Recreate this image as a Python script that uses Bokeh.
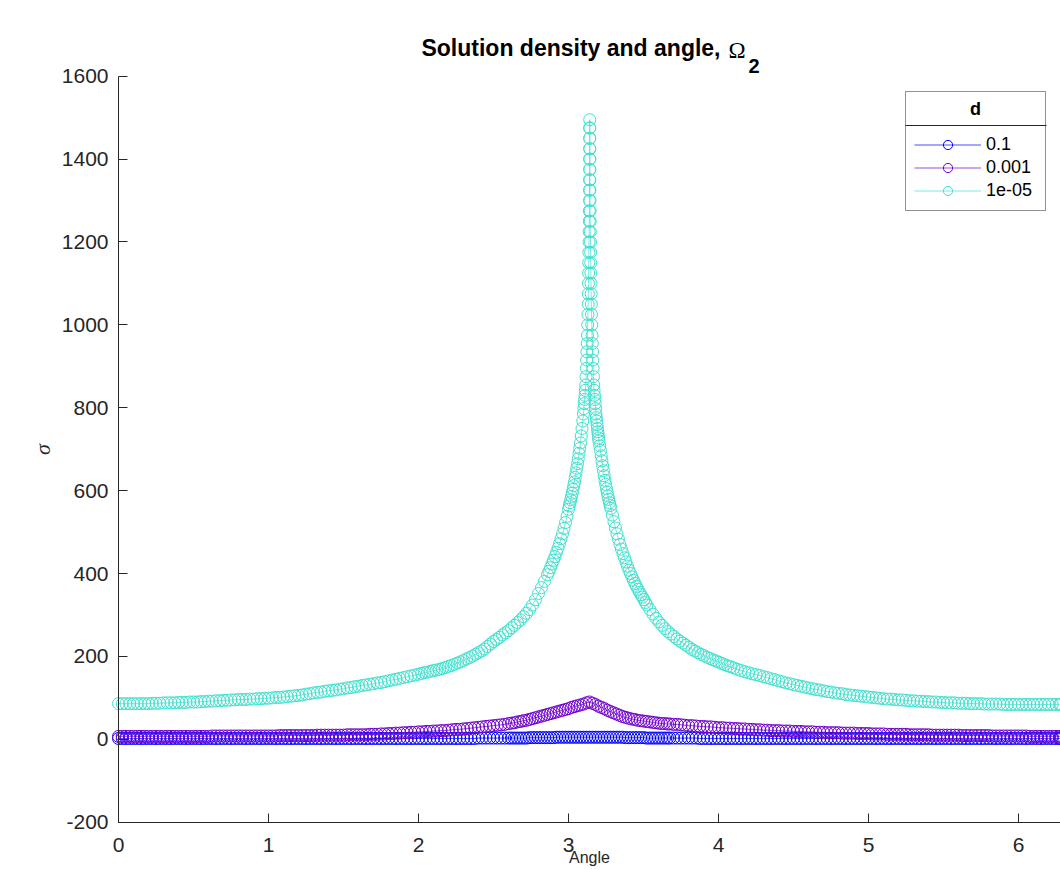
import math
from bokeh.plotting import figure
from bokeh.models import Range1d, FixedTicker, Label, Legend, LegendItem, BoxAnnotation
from bokeh.embed import file_html
from bokeh.resources import INLINE

# ---------------- data ----------------
series_labels = ["0.1", "0.001", "1e-05"]
series_colors = ["#0000FF", "#7000CC", "#40E0D0"]

# angles shared by d = 0.1 and d = 0.001
angle_lo = [
    0.000, 0.025, 0.050, 0.075, 0.100, 0.125, 0.150, 0.175, 0.200, 0.225,
    0.250, 0.275, 0.300, 0.325, 0.350, 0.375, 0.400, 0.425, 0.450, 0.475,
    0.500, 0.525, 0.550, 0.575, 0.600, 0.625, 0.650, 0.675, 0.700, 0.725,
    0.750, 0.775, 0.800, 0.825, 0.850, 0.875, 0.900, 0.925, 0.950, 0.975,
    1.000, 1.025, 1.050, 1.075, 1.100, 1.125, 1.150, 1.175, 1.200, 1.225,
    1.250, 1.275, 1.300, 1.325, 1.350, 1.375, 1.400, 1.425, 1.450, 1.475,
    1.500, 1.525, 1.550, 1.575, 1.600, 1.625, 1.650, 1.675, 1.700, 1.725,
    1.750, 1.775, 1.800, 1.825, 1.850, 1.875, 1.900, 1.925, 1.950, 1.975,
    2.000, 2.025, 2.050, 2.075, 2.100, 2.125, 2.150, 2.175, 2.200, 2.225,
    2.250, 2.275, 2.300, 2.325, 2.350, 2.375, 2.400, 2.425, 2.450, 2.475,
    2.500, 2.525, 2.550, 2.575, 2.600,
    2.62, 2.64, 2.66, 2.68, 2.70, 2.72, 2.74, 2.76, 2.78, 2.80,
    2.82, 2.84, 2.86, 2.88, 2.90, 2.92, 2.94, 2.96, 2.98, 3.00,
    3.02, 3.04, 3.06, 3.08, 3.10, 3.12, 3.14, 3.16, 3.18, 3.20,
    3.22, 3.24, 3.26, 3.28, 3.30, 3.32, 3.34, 3.36, 3.38, 3.40,
    3.42, 3.44, 3.46, 3.48, 3.50, 3.52, 3.54, 3.56, 3.58, 3.60,
    3.62, 3.64, 3.66,
    3.675, 3.700, 3.725, 3.750, 3.775, 3.800, 3.825, 3.850, 3.875, 3.900,
    3.925, 3.950, 3.975, 4.000, 4.025, 4.050, 4.075, 4.100, 4.125, 4.150,
    4.175, 4.200, 4.225, 4.250, 4.275, 4.300, 4.325, 4.350, 4.375, 4.400,
    4.425, 4.450, 4.475, 4.500, 4.525, 4.550, 4.575, 4.600, 4.625, 4.650,
    4.675, 4.700, 4.725, 4.750, 4.775, 4.800, 4.825, 4.850, 4.875, 4.900,
    4.925, 4.950, 4.975, 5.000, 5.025, 5.050, 5.075, 5.100, 5.125, 5.150,
    5.175, 5.200, 5.225, 5.250, 5.275, 5.300, 5.325, 5.350, 5.375, 5.400,
    5.425, 5.450, 5.475, 5.500, 5.525, 5.550, 5.575, 5.600, 5.625, 5.650,
    5.675, 5.700, 5.725, 5.750, 5.775, 5.800, 5.825, 5.850, 5.875, 5.900,
    5.925, 5.950, 5.975, 6.000, 6.025, 6.050, 6.075, 6.100, 6.125, 6.150,
    6.175, 6.200, 6.225, 6.250, 6.275, 6.283,
]

# d = 0.1
sigma_d1 = [
    2, 2, 2, 2, 2, 2, 2, 2, 2, 2,
    2, 2, 2, 2, 2, 2, 2, 2, 2, 2,
    2, 2, 2, 2, 2, 2, 2, 2, 2, 2,
    2, 2, 2, 2, 2, 2, 2, 2, 2, 2,
    2, 2, 2, 2, 2, 2, 2, 2, 2, 2,
    2, 2, 2, 2, 2, 2, 2, 2, 2, 2,
    2, 2, 2, 2, 2, 2, 2, 2, 2, 2,
    2, 2, 2, 2, 2, 2, 2, 2, 2, 2,
    2, 2, 2, 2, 2, 2, 2, 2, 2, 2,
    2, 2, 2, 2, 2, 2, 3, 3, 3, 3,
    3, 3, 3, 3, 3,
    3, 3, 3, 3, 3, 3, 4, 4, 4, 4,
    4, 4, 4, 4, 4, 5, 5, 5, 5, 5,
    5, 5, 5, 5, 5, 5, 5, 5, 5, 5,
    5, 5, 5, 5, 5, 5, 5, 5, 4, 4,
    4, 4, 4, 4, 4, 3, 3, 3, 3, 3,
    3, 3, 3,
    3, 3, 3, 3, 3, 3, 3, 3, 2, 2,
    2, 2, 2, 2, 2, 2, 2, 2, 2, 2,
    2, 2, 2, 2, 2, 2, 2, 2, 2, 2,
    2, 2, 2, 2, 2, 2, 2, 2, 2, 2,
    2, 2, 2, 2, 2, 2, 2, 2, 2, 2,
    2, 2, 2, 2, 2, 2, 2, 2, 2, 2,
    2, 2, 2, 2, 2, 2, 2, 2, 2, 2,
    2, 2, 2, 2, 2, 2, 2, 2, 2, 2,
    2, 2, 2, 2, 2, 2, 2, 2, 2, 2,
    2, 2, 2, 2, 2, 2, 2, 2, 2, 2,
    2, 2, 2, 2, 2, 2,
]

# d = 0.001
sigma_d3 = [
    7, 7, 7, 7, 7, 7, 7, 7, 7, 7,
    7, 7, 7, 7, 7, 7, 7, 7, 7, 7,
    7, 7, 7, 7, 7, 8, 8, 8, 8, 8,
    8, 8, 8, 8, 8, 8, 8, 8, 8, 8,
    8, 8, 8, 9, 9, 9, 9, 9, 9, 9,
    9, 9, 9, 10, 10, 10, 10, 10, 10, 10,
    10, 11, 11, 11, 11, 11, 11, 12, 12, 12,
    13, 13, 14, 14, 15, 15, 16, 16, 17, 17,
    18, 18, 19, 19, 20, 20, 21, 21, 22, 23,
    24, 24, 25, 26, 27, 28, 29, 30, 31, 32,
    33, 34, 35, 36, 38,
    39, 40, 42, 43, 45, 46, 48, 50, 52, 54,
    56, 58, 60, 62, 64, 66, 68, 70, 72, 74,
    77, 79, 81, 83, 85, 88, 90, 87, 84, 80,
    77, 74, 70, 67, 64, 61, 58, 55, 53, 51,
    49, 48, 46, 45, 44, 43, 42, 41, 40, 39,
    38, 38, 37,
    37, 36, 36, 35, 34, 33, 33, 32, 31, 31,
    30, 30, 29, 28, 28, 27, 27, 26, 26, 25,
    25, 24, 24, 23, 23, 22, 22, 21, 21, 21,
    20, 20, 20, 19, 19, 19, 18, 18, 18, 17,
    17, 17, 16, 16, 16, 16, 15, 15, 15, 15,
    14, 14, 14, 14, 13, 13, 13, 13, 12, 12,
    12, 12, 12, 12, 11, 11, 11, 11, 11, 11,
    10, 10, 10, 10, 10, 10, 10, 10, 9, 9,
    9, 9, 9, 9, 9, 9, 8, 8, 8, 8,
    8, 8, 8, 8, 8, 8, 7, 7, 7, 7,
    7, 7, 7, 7, 7, 7,
]

# d = 1e-05: left flank, central spike, right flank
angle_hi_left = [
    0.000, 0.025, 0.050, 0.075, 0.100, 0.125, 0.150, 0.175, 0.200, 0.225,
    0.250, 0.275, 0.300, 0.325, 0.350, 0.375, 0.400, 0.425, 0.450, 0.475,
    0.500, 0.525, 0.550, 0.575, 0.600, 0.625, 0.650, 0.675, 0.700, 0.725,
    0.750, 0.775, 0.800, 0.825, 0.850, 0.875, 0.900, 0.925, 0.950, 0.975,
    1.000, 1.025, 1.050, 1.075, 1.100, 1.125, 1.150, 1.175, 1.200, 1.225,
    1.250, 1.275, 1.300, 1.325, 1.350, 1.375, 1.400, 1.425, 1.450, 1.475,
    1.500, 1.525, 1.550, 1.575, 1.600, 1.625, 1.650, 1.675, 1.700, 1.725,
    1.750, 1.775, 1.800, 1.825, 1.850, 1.875, 1.900, 1.925, 1.950, 1.975,
    2.00, 2.02, 2.04, 2.06, 2.08, 2.10, 2.12, 2.14, 2.16, 2.18,
    2.20, 2.22, 2.24, 2.26, 2.28, 2.30, 2.32, 2.34, 2.36, 2.38,
    2.40, 2.42, 2.44, 2.46, 2.48, 2.50, 2.52, 2.54, 2.56, 2.58,
    2.60, 2.62, 2.64, 2.66, 2.68, 2.70, 2.72, 2.74, 2.76, 2.78,
    2.80, 2.82, 2.84, 2.86, 2.87, 2.88, 2.89, 2.90, 2.91, 2.92,
    2.93, 2.94, 2.95, 2.96, 2.97, 2.98, 2.99, 3.00, 3.005, 3.01,
    3.015, 3.02, 3.025, 3.03, 3.035, 3.04, 3.045, 3.05, 3.055, 3.06,
    3.065, 3.07, 3.075, 3.08, 3.085, 3.09, 3.095, 3.10, 3.1025, 3.105,
    3.1075, 3.11, 3.1125,
]
sigma_d5_left = [
    86, 86, 86, 86, 86, 86, 86, 86, 86, 87,
    87, 87, 88, 88, 88, 88, 89, 89, 89, 90,
    90, 90, 91, 91, 92, 92, 93, 93, 94, 94,
    95, 95, 96, 96, 96, 97, 97, 98, 98, 99,
    99, 100, 101, 101, 102, 103, 104, 105, 106, 107,
    109, 110, 112, 113, 114, 116, 117, 118, 119, 121,
    122, 124, 125, 127, 128, 130, 131, 133, 134, 136,
    137, 139, 141, 143, 145, 147, 149, 151, 153, 155,
    157, 159, 161, 162, 164, 166, 167, 169, 171, 173,
    176, 178, 181, 184, 187, 190, 194, 197, 201, 205,
    209, 213, 218, 224, 230, 236, 241, 246, 252, 257,
    262, 269, 275, 282, 288, 296, 304, 313, 324, 337,
    352, 366, 381, 397, 405, 414, 423, 432, 441, 451,
    461, 472, 484, 496, 509, 523, 538, 555, 563, 571,
    578, 586, 594, 603, 612, 621, 632, 643, 654, 665,
    677, 690, 702, 715, 732, 750, 768, 785, 798, 810,
    820, 830, 842,
]

angle_hi_spike = [
    3.115, 3.117, 3.119, 3.121, 3.123, 3.125, 3.1265, 3.128, 3.1295, 3.131,
    3.132, 3.133, 3.134, 3.135, 3.136, 3.1368, 3.1376, 3.1384, 3.139, 3.1396,
    3.14, 3.1404, 3.1407, 3.141, 3.1412, 3.1414, 3.1415, 3.1416, 3.1417, 3.1418,
    3.142, 3.1422, 3.1425, 3.1428, 3.1432, 3.1436, 3.1442, 3.1448, 3.1456, 3.1464,
    3.1472, 3.1482, 3.1492, 3.1502, 3.1512, 3.1522, 3.1537, 3.1552, 3.1567, 3.1582,
    3.1602, 3.1622, 3.1642, 3.1662, 3.1682,
]
sigma_d5_spike = [
    855, 875, 895, 915, 935, 955, 975, 1000, 1025, 1050,
    1075, 1100, 1125, 1150, 1175, 1200, 1225, 1250, 1275, 1300,
    1325, 1350, 1375, 1400, 1425, 1450, 1475, 1495, 1475, 1450,
    1425, 1400, 1375, 1350, 1325, 1300, 1275, 1250, 1225, 1200,
    1175, 1150, 1125, 1100, 1075, 1050, 1025, 1000, 975, 955,
    935, 915, 895, 875, 855,
]

angle_hi_right = [
    3.1705, 3.173, 3.1755, 3.178, 3.1805, 3.183, 3.1855, 3.188, 3.1905, 3.193,
    3.1955, 3.198, 3.2005, 3.203, 3.208, 3.213, 3.218, 3.223, 3.228, 3.233,
    3.238, 3.243, 3.248, 3.253, 3.258, 3.263, 3.268, 3.273, 3.278, 3.283,
    3.293, 3.303, 3.313, 3.323, 3.333, 3.343, 3.353, 3.363, 3.373, 3.383,
    3.393, 3.403, 3.413, 3.423, 3.433, 3.443, 3.453, 3.463, 3.473, 3.483,
    3.493, 3.503, 3.513, 3.523, 3.543, 3.563, 3.583, 3.603, 3.623, 3.643,
    3.663, 3.683, 3.703, 3.723, 3.743, 3.763, 3.783, 3.803, 3.823, 3.843,
    3.863, 3.883, 3.903, 3.923, 3.943, 3.963, 3.983, 4.003, 4.023, 4.043,
    4.063, 4.083, 4.103, 4.125, 4.150, 4.175, 4.200, 4.225, 4.250, 4.275,
    4.300, 4.325, 4.350, 4.375, 4.400, 4.425, 4.450, 4.475, 4.500, 4.525,
    4.550, 4.575, 4.600, 4.625, 4.650, 4.675, 4.700, 4.725, 4.750, 4.775,
    4.800, 4.825, 4.850, 4.875, 4.900, 4.925, 4.950, 4.975, 5.000, 5.025,
    5.050, 5.075, 5.100, 5.125, 5.150, 5.175, 5.200, 5.225, 5.250, 5.275,
    5.300, 5.325, 5.350, 5.375, 5.400, 5.425, 5.450, 5.475, 5.500, 5.525,
    5.550, 5.575, 5.600, 5.625, 5.650, 5.675, 5.700, 5.725, 5.750, 5.775,
    5.800, 5.825, 5.850, 5.875, 5.900, 5.925, 5.950, 5.975, 6.000, 6.025,
    6.050, 6.075, 6.100, 6.125, 6.150, 6.175, 6.200, 6.225, 6.250, 6.275,
    6.283,
]
sigma_d5_right = [
    842, 830, 820, 810, 798, 785, 776, 768, 759, 750,
    742, 735, 727, 720, 708, 697, 684, 672, 660, 648,
    636, 625, 615, 605, 596, 587, 579, 571, 564, 557,
    541, 525, 510, 496, 483, 470, 459, 448, 438, 428,
    418, 408, 400, 392, 384, 376, 369, 362, 355, 349,
    343, 337, 330, 324, 313, 302, 292, 283, 275, 267,
    260, 254, 248, 242, 237, 232, 227, 222, 217, 213,
    209, 205, 202, 198, 195, 192, 189, 186, 183, 180,
    177, 175, 172, 169, 166, 163, 161, 158, 156, 154,
    151, 149, 146, 144, 141, 139, 136, 134, 132, 130,
    128, 126, 124, 122, 120, 119, 117, 115, 114, 112,
    111, 110, 108, 107, 106, 105, 104, 103, 102, 101,
    100, 99, 98, 97, 97, 96, 95, 95, 94, 93,
    93, 92, 92, 91, 91, 90, 90, 89, 89, 88,
    88, 88, 87, 87, 87, 86, 86, 86, 86, 85,
    85, 85, 85, 85, 84, 84, 84, 84, 84, 84,
    84, 84, 84, 84, 84, 84, 84, 84, 84, 84,
    84,
]

x_ticks = [0, 1, 2, 3, 4, 5, 6]
y_ticks = [-200, 0, 200, 400, 600, 800, 1000, 1200, 1400, 1600]

assert len(angle_lo) == len(sigma_d1) == len(sigma_d3)
assert len(angle_hi_left) == len(sigma_d5_left)
assert len(angle_hi_spike) == len(sigma_d5_spike)
assert len(angle_hi_right) == len(sigma_d5_right)

angle_hi = angle_hi_left + angle_hi_spike + angle_hi_right
sigma_d5 = sigma_d5_left + sigma_d5_spike + sigma_d5_right

# ---------------- figure ----------------
AX = "#262626"
FONT = "Liberation Sans"
W, H = 1060, 870
PX_X = 150.0           # pixels per unit of angle
PX_Y = 746.0 / 1800    # pixels per unit of sigma
LEFT, TOP = 118, 75.7  # axes corner in pixels

x0 = -LEFT / PX_X
x1 = (W - LEFT) / PX_X
y1 = 1600 + TOP / PX_Y
y0 = y1 - H / PX_Y

p = figure(width=W, height=H, output_backend="svg", toolbar_location=None,
           title=None, x_range=Range1d(x0, x1), y_range=Range1d(y0, y1),
           min_border_left=0, min_border_right=0, min_border_top=0, min_border_bottom=0)
p.outline_line_color = None
p.background_fill_color = "white"
p.border_fill_color = "white"
p.grid.visible = False

p.xaxis.fixed_location = -200
p.xaxis.bounds = (0, 2 * math.pi)
p.yaxis.fixed_location = 0
p.yaxis.bounds = (-200, 1600)

for ax in (p.xaxis[0], p.yaxis[0]):
    ax.axis_line_color = AX
    ax.axis_line_width = 1
    ax.major_tick_line_color = AX
    ax.major_tick_in = 9
    ax.major_tick_out = 0
    ax.minor_tick_line_color = None
    ax.major_label_text_font = FONT
    ax.major_label_text_font_size = "21px"
    ax.major_label_text_color = AX

p.xaxis.ticker = FixedTicker(ticks=x_ticks)
p.yaxis.ticker = FixedTicker(ticks=y_ticks)
p.yaxis.major_label_overrides = {-200: "-200"}
p.xaxis.major_label_standoff = 16
p.yaxis.major_label_standoff = 10

# series
sets = [(angle_lo, sigma_d1), (angle_lo, sigma_d3), (angle_hi, sigma_d5)]
items = []
for (xs, ys), lab, col in zip(sets, series_labels, series_colors):
    rl = p.line(xs, ys, line_color=col, line_width=0.7)
    rs = p.scatter(xs, ys, marker="circle", size=12, fill_color=None,
                   line_color=col, line_width=1)
    items.append(LegendItem(label=lab, renderers=[rl, rs]))

legend = Legend(items=items, location=(905, H - 211), title=" ",
                title_text_font=FONT, title_text_font_size="18px",
                title_standoff=12,
                label_text_font=FONT, label_text_font_size="18px",
                label_text_color="black",
                glyph_width=67, glyph_height=23, label_height=23,
                label_width=51, label_standoff=5, spacing=0, padding=8,
                border_line_color=AX, border_line_width=1,
                background_fill_alpha=0.0, margin=0)
p.add_layout(legend)


def data_x(px):
    return (px - LEFT) / PX_X


def data_y(py):
    return 1600 - (py - TOP) / PX_Y


TXT_SHIFT = 8  # labels are drawn about this many pixels lower than their anchor

# legend title and separator
p.add_layout(Label(x=data_x(975), y=data_y(116 - TXT_SHIFT), text="d", text_align="center",
                   text_baseline="alphabetic", text_font=FONT,
                   text_font_style="bold", text_font_size="18px",
                   text_color="black"))
p.add_layout(BoxAnnotation(left=data_x(905), right=data_x(1046),
                           top=data_y(124.5), bottom=data_y(125.5),
                           fill_color=AX, fill_alpha=1.0, line_alpha=0))

# title pieces
p.add_layout(Label(x=data_x(720), y=data_y(55 - TXT_SHIFT), text="Solution density and angle,",
                   text_align="right", text_baseline="alphabetic",
                   text_font=FONT, text_font_style="bold",
                   text_font_size="23px", text_color="black"))
p.add_layout(Label(x=data_x(728), y=data_y(58 - TXT_SHIFT), text="Ω", text_align="left",
                   text_baseline="alphabetic", text_font="Liberation Serif",
                   text_font_size="23px", text_color="black"))
p.add_layout(Label(x=data_x(748), y=data_y(73 - TXT_SHIFT), text="2", text_align="left",
                   text_baseline="alphabetic", text_font=FONT,
                   text_font_style="bold", text_font_size="20px",
                   text_color="black"))

# y axis label (rotated) and x axis label
p.add_layout(Label(x=data_x(50 - TXT_SHIFT), y=data_y(449), text="σ", text_align="center",
                   text_baseline="alphabetic", angle=math.pi / 2,
                   text_font="Liberation Serif", text_font_style="italic",
                   text_font_size="22px", text_color=AX))
p.add_layout(Label(x=data_x(589), y=data_y(865 - TXT_SHIFT), text="Angle", text_align="center",
                   text_baseline="alphabetic", text_font=FONT,
                   text_font_size="16px", text_color=AX))

open("out.html", "w").write(file_html(p, INLINE))
